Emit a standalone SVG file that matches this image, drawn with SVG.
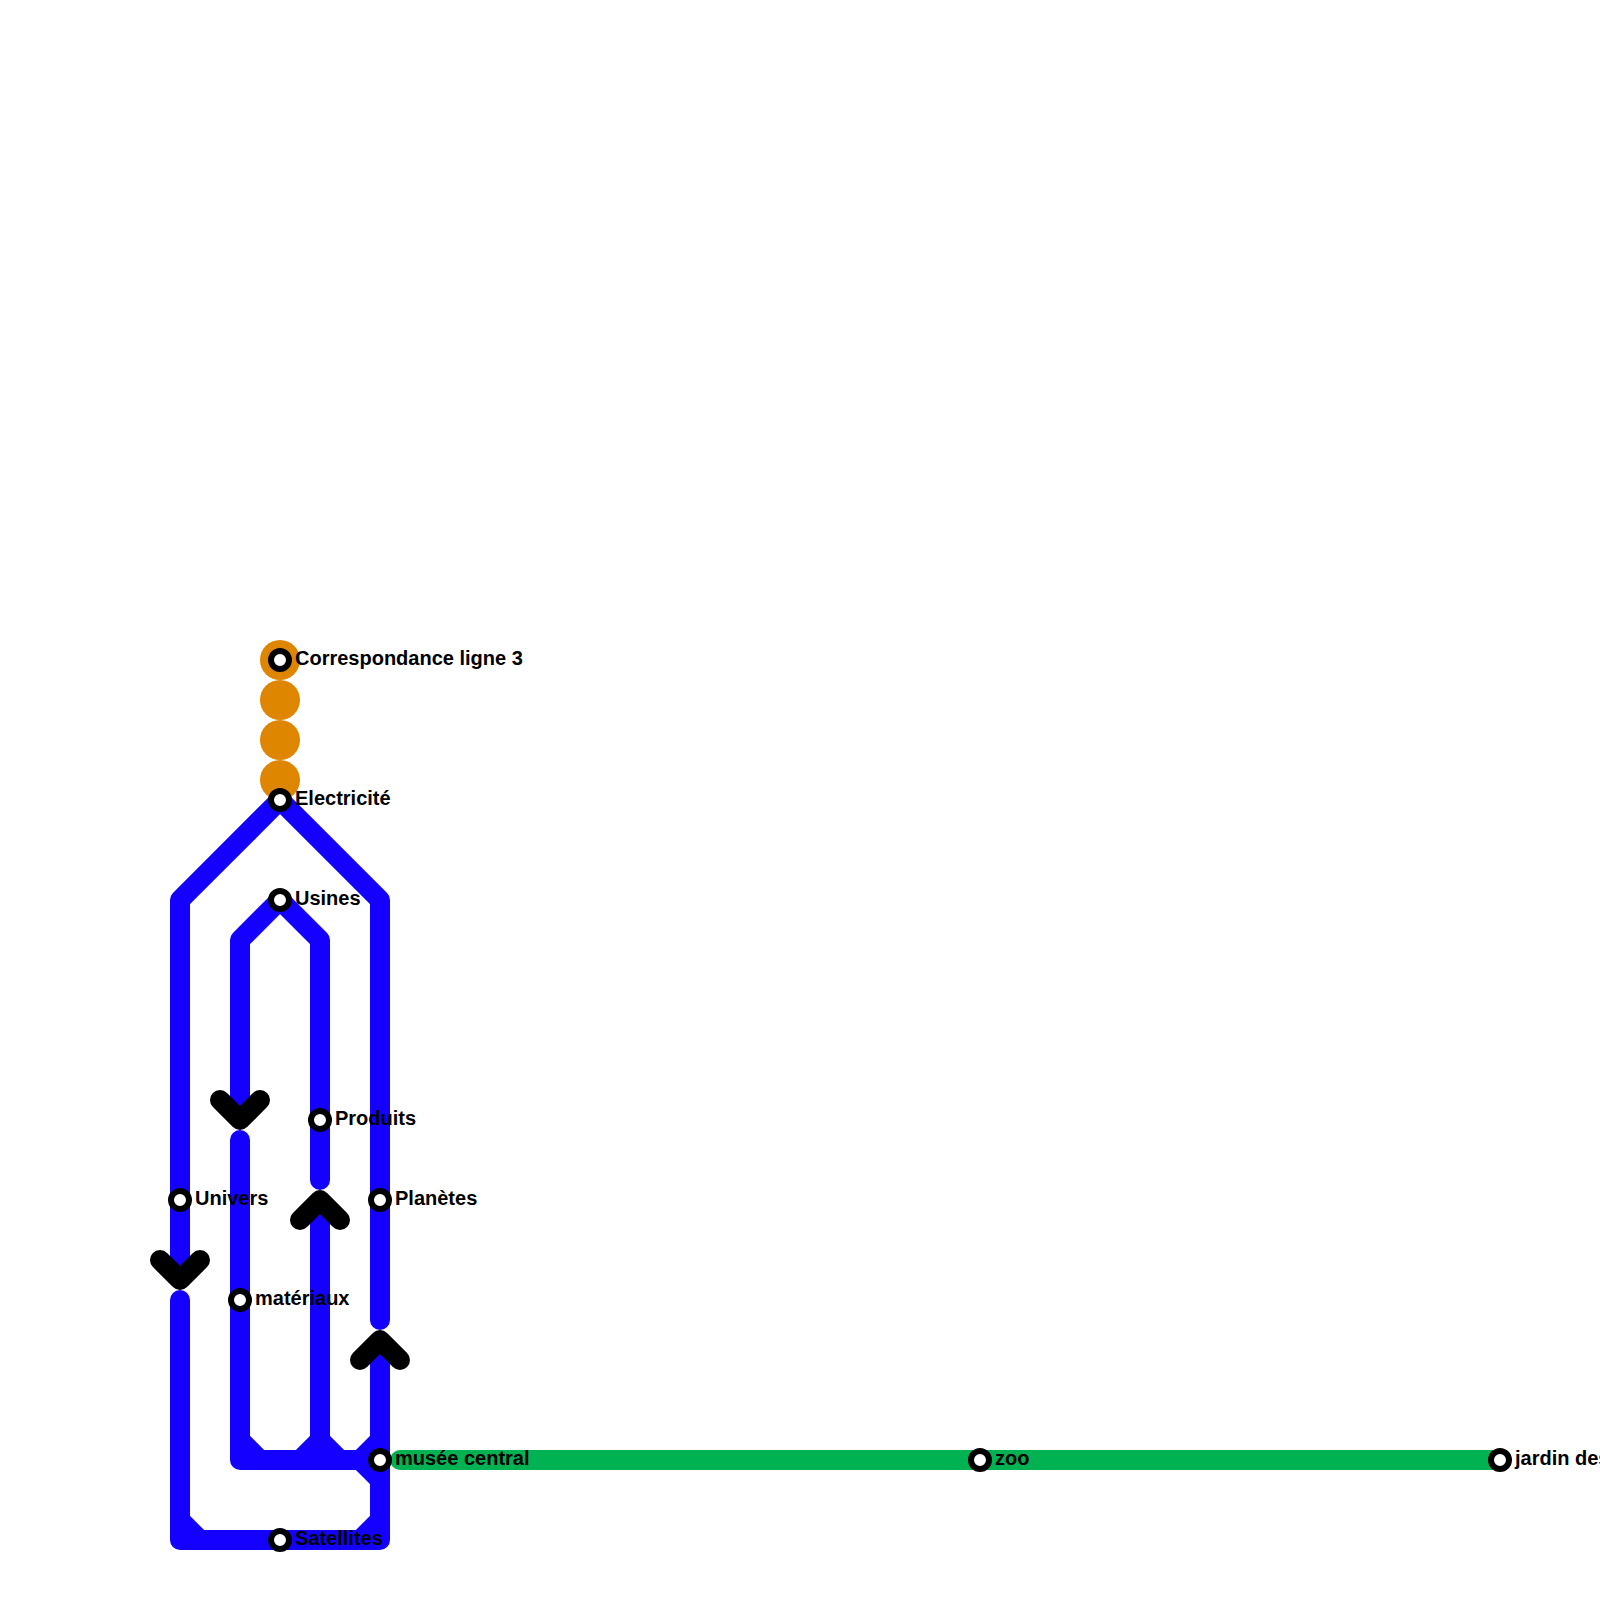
<svg xmlns="http://www.w3.org/2000/svg" width="1600" height="1600" viewBox="0 0 1600 1600">
<style>
.t{fill:#df8600}
.l{fill:none;stroke-width:20;stroke-linecap:round;stroke-linejoin:round}
.b{stroke:#1400ff}
.g{stroke:#00b251}
.c{fill:none;stroke:#000;stroke-width:20;stroke-linecap:round;stroke-linejoin:round}
.s{fill:#fff;stroke:#000;stroke-width:6}
text{font-family:"Liberation Sans",Arial,sans-serif;font-weight:700;font-size:20px;fill:#000}
</style>
<g id="transfer">
<circle class="t" cx="280" cy="660" r="20"/>
<circle class="t" cx="280" cy="700" r="20"/>
<circle class="t" cx="280" cy="740" r="20"/>
<circle class="t" cx="280" cy="780" r="20"/>
</g>
<g id="connectors">
<path class="l g" d="M400 1460H1500"/>
<path class="l b" d="M180 1270V900L280 800L380 900V1320"/>
<path class="l b" d="M240 1100V940L280 900L320 940V1180"/>
<path class="l b" d="M180 1300V1540H380V1360"/>
<path class="l b" d="M240 1140V1460H380"/>
<path class="l b" d="M320 1220V1440"/>
<path class="l b" d="M180 1520L200 1540M360 1540L380 1520M240 1440L260 1460M300 1460L320 1440L340 1460M360 1460L380 1440M360 1460L380 1480"/>
<path class="c" d="M160 1260L180 1280L200 1260"/>
<path class="c" d="M220 1100L240 1120L260 1100"/>
<path class="c" d="M300 1220L320 1200L340 1220"/>
<path class="c" d="M360 1360L380 1340L400 1360"/>
</g>
<g id="n-correspondance"><circle class="s" cx="280" cy="660" r="9"/><text x="295" y="665">Correspondance ligne 3</text></g>
<g id="n-electricite"><circle class="s" cx="280" cy="800" r="9"/><text x="295" y="805">Electricité</text></g>
<g id="n-usines"><circle class="s" cx="280" cy="900" r="9"/><text x="295" y="905">Usines</text></g>
<g id="n-produits"><circle class="s" cx="320" cy="1120" r="9"/><text x="335" y="1125">Produits</text></g>
<g id="n-univers"><circle class="s" cx="180" cy="1200" r="9"/><text x="195" y="1205">Univers</text></g>
<g id="n-planetes"><circle class="s" cx="380" cy="1200" r="9"/><text x="395" y="1205">Planètes</text></g>
<g id="n-materiaux"><circle class="s" cx="240" cy="1300" r="9"/><text x="255" y="1305">matériaux</text></g>
<g id="n-musee"><circle class="s" cx="380" cy="1460" r="9"/><text x="395" y="1465">musée central</text></g>
<g id="n-satellites"><circle class="s" cx="280" cy="1540" r="9"/><text x="295" y="1545">Satellites</text></g>
<g id="n-zoo"><circle class="s" cx="980" cy="1460" r="9"/><text x="995" y="1465">zoo</text></g>
<g id="n-jardin"><circle class="s" cx="1500" cy="1460" r="9"/><text x="1515" y="1465">jardin des</text></g>
</svg>
